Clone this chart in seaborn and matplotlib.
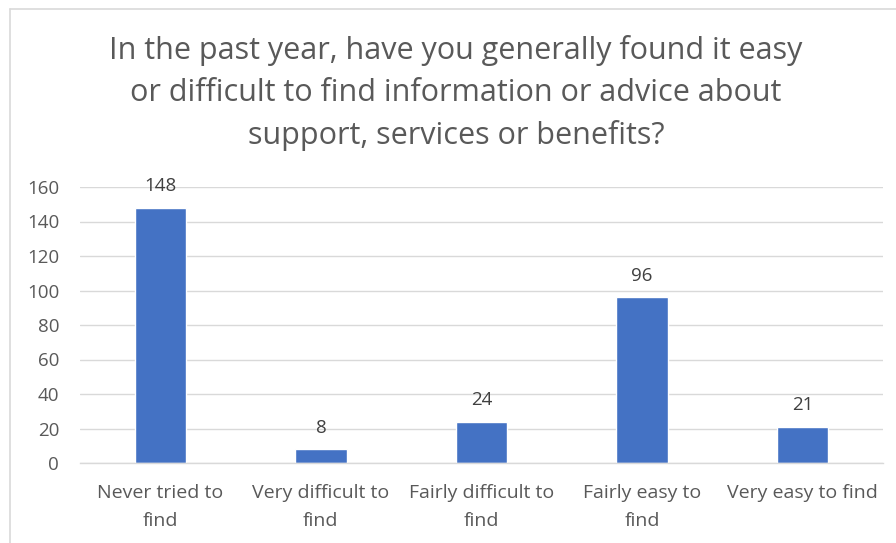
import matplotlib
matplotlib.use("Agg")
import matplotlib.pyplot as plt
import seaborn as sns
import pandas as pd
from matplotlib.lines import Line2D

categories = ["Never tried to\nfind", "Very difficult to\nfind", "Fairly difficult to\nfind", "Fairly easy to\nfind", "Very easy to find"]
values = [148, 8, 24, 96, 21]
yticks = [0, 20, 40, 60, 80, 100, 120, 140, 160]
title = "In the past year, have you generally found it easy\nor difficult to find information or advice about\nsupport, services or benefits?"

sns.set_theme(style="white")
plt.rcParams['font.family'] = ['Open Sans', 'DejaVu Sans']

W, H = 896, 543
fig = plt.figure(figsize=(W/100, H/100), dpi=100)
ax = fig.add_axes([80/W, 1-463/H, (883-80)/W, (463-187)/H])

df = pd.DataFrame({"cat": categories, "val": values})
sns.barplot(data=df, x="cat", y="val", color="#4472C4", width=0.32, saturation=1, ax=ax)

ax.set_ylim(0, 160)
ax.set_yticks(yticks)
ax.set_xlim(-0.5, len(categories)-0.5)
ax.grid(axis="y", color="#D9D9D9", linewidth=1.0)
ax.set_axisbelow(True)
for s in ["top", "right", "left"]:
    ax.spines[s].set_visible(False)
ax.spines["bottom"].set_color("#D9D9D9")
ax.spines["bottom"].set_linewidth(1.0)
ax.set_xlabel("")
ax.set_ylabel("")
ax.tick_params(axis="both", length=0, labelsize=14, labelcolor="#595959")
ax.tick_params(axis="y", labelsize=13.5, pad=15)
ax.tick_params(axis="x", pad=15)
for lbl in ax.get_xticklabels():
    lbl.set_linespacing(1.75)

for c in ax.containers:
    ax.bar_label(c, labels=[str(v) for v in values], padding=9, fontsize=13.5, color="#404040")

fig.text(456/W, 1-93/H, title, ha="center", va="center", fontsize=22, color="#595959", linespacing=1.53)

# chart border (cropped)
fig.add_artist(Line2D([9.5/W, 9.5/W], [0, 1-8.5/H], transform=fig.transFigure, color="#D9D9D9", linewidth=1.2))
fig.add_artist(Line2D([9.5/W, 1], [1-8.5/H, 1-8.5/H], transform=fig.transFigure, color="#D9D9D9", linewidth=1.2))

fig.savefig("out.png", dpi=100)
